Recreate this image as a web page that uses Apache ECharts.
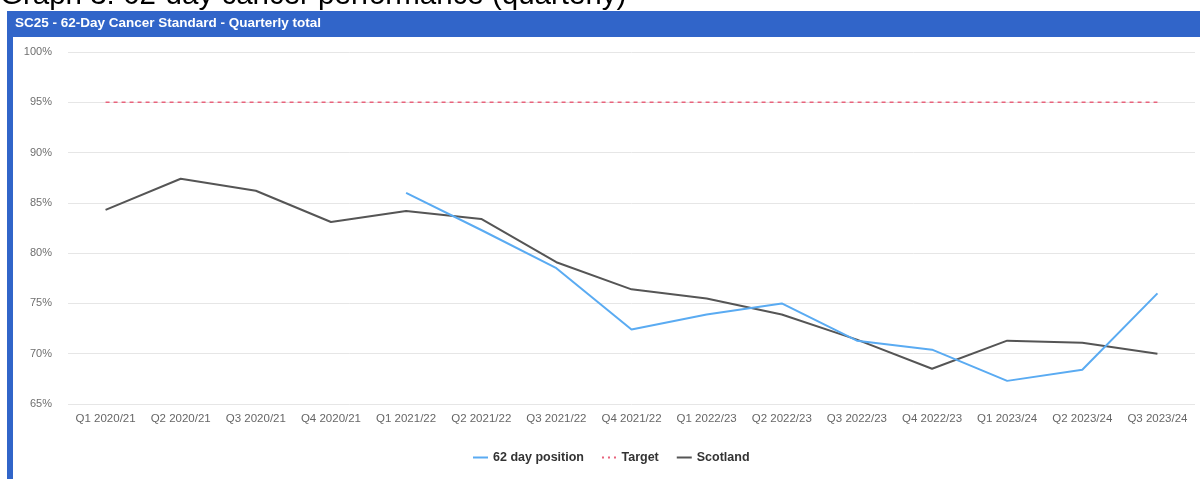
<!DOCTYPE html>
<html>
<head>
<meta charset="utf-8">
<title>SC25 - 62-Day Cancer Standard - Quarterly total</title>
<script src="https://cdn.jsdelivr.net/npm/echarts@6/dist/echarts.min.js"></script>
<style>
  html, body { margin: 0; padding: 0; background: #ffffff; }
  #chart { width: 1200px; height: 479px; }
</style>
</head>
<body>
<div id="chart"></div>
<script>
// Quarter labels on the x axis
const quarters = [
  'Q1 2020/21', 'Q2 2020/21', 'Q3 2020/21', 'Q4 2020/21',
  'Q1 2021/22', 'Q2 2021/22', 'Q3 2021/22', 'Q4 2021/22',
  'Q1 2022/23', 'Q2 2022/23', 'Q3 2022/23', 'Q4 2022/23',
  'Q1 2023/24', 'Q2 2023/24', 'Q3 2023/24'
];

// Board 62 day position (%), reported from Q1 2021/22
const position62 = [
  null, null, null, null,
  86.0, 82.3, 78.5, 72.4,
  73.9, 75.0, 71.3, 70.4,
  67.3, 68.4, 76.0
];

// National target (%)
const target = [95, 95, 95, 95, 95, 95, 95, 95, 95, 95, 95, 95, 95, 95, 95];

// Scotland overall (%)
const scotland = [
  84.3, 87.4, 86.2, 83.1,
  84.2, 83.4, 79.1, 76.4,
  75.5, 73.9, 71.4, 68.5,
  71.3, 71.1, 70.0
];

// Value axis range and step
const yMin = 65;
const yMax = 100;
const yStep = 5;

const regular = "'Liberation Sans', Arial, sans-serif";

// Legend swatches: a solid bar and a row of dots
const solidIcon = 'path://M0,0H15V2H0Z';
const dotIcon = 'path://M0,0H2V2H0Z M6,0H8V2H6Z M12,0H14V2H12Z';

const chart = echarts.init(document.getElementById('chart'), null, { renderer: 'canvas' });

chart.setOption({
  animation: false,
  backgroundColor: '#ffffff',
  graphic: [
    {
      type: 'text',
      left: 0,
      top: -19,
      z: 1,
      style: {
        text: 'Graph 3: 62-day cancer performance (quarterly)',
        font: "29.5px " + regular,
        fill: '#000000'
      }
    },
    {
      type: 'rect',
      z: 5,
      shape: { x: 7, y: 11, width: 1193, height: 26 },
      style: { fill: '#3165c9' }
    },
    {
      type: 'rect',
      z: 5,
      shape: { x: 7, y: 11, width: 6, height: 468 },
      style: { fill: '#3165c9' }
    },
    {
      type: 'text',
      z: 6,
      left: 15,
      top: 16,
      style: {
        text: 'SC25 - 62-Day Cancer Standard - Quarterly total',
        font: "bold 13.5px " + regular,
        fill: '#ffffff'
      }
    }
  ],
  grid: {
    left: 68,
    right: 5,
    top: 52,
    bottom: 75,
    containLabel: false
  },
  legend: {
    left: 468,
    top: 446,
    itemWidth: 15,
    itemHeight: 2,
    itemGap: 18,
    textStyle: {
      fontFamily: regular,
      fontWeight: 'bold',
      fontSize: 12.5,
      color: '#333333'
    },
    data: [
      { name: '62 day position', icon: solidIcon },
      { name: 'Target', icon: dotIcon },
      { name: 'Scotland', icon: solidIcon }
    ]
  },
  xAxis: {
    type: 'category',
    data: quarters,
    boundaryGap: true,
    axisLine: { show: false },
    axisTick: { show: false },
    axisLabel: {
      interval: 0,
      margin: 9,
      fontFamily: regular,
      fontSize: 11.5,
      color: '#666666'
    },
    splitLine: { show: false }
  },
  yAxis: {
    type: 'value',
    min: yMin,
    max: yMax,
    interval: yStep,
    axisLine: { show: false },
    axisTick: { show: false },
    axisLabel: {
      formatter: '{value}%',
      margin: 16,
      fontFamily: regular,
      fontSize: 11,
      color: '#6f6f6f'
    },
    splitLine: { lineStyle: { color: '#e6e6e6', width: 1 } }
  },
  series: [
    {
      name: '62 day position',
      type: 'line',
      data: position62,
      symbol: 'none',
      connectNulls: false,
      lineStyle: { color: '#5aabf2', width: 2 },
      itemStyle: { color: '#5aabf2' },
      z: 3
    },
    {
      name: 'Target',
      type: 'line',
      data: target,
      symbol: 'none',
      lineStyle: { color: '#e8637c', width: 1.5, type: [4, 4] },
      itemStyle: { color: '#e8637c' },
      z: 2
    },
    {
      name: 'Scotland',
      type: 'line',
      data: scotland,
      symbol: 'none',
      lineStyle: { color: '#555555', width: 2 },
      itemStyle: { color: '#555555' },
      z: 2
    }
  ]
});
</script>
</body>
</html>
